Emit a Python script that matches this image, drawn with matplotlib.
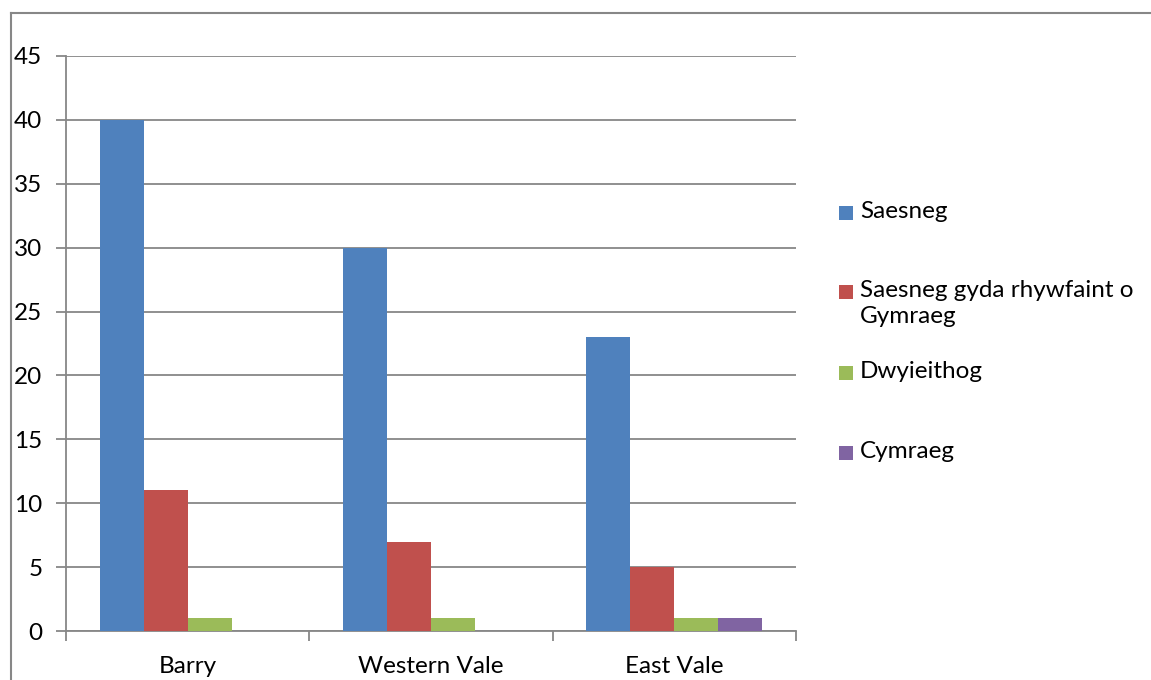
import numpy as np
import matplotlib.pyplot as plt
from matplotlib.patches import Rectangle
from matplotlib.lines import Line2D

plt.rcParams['font.family'] = ['Lato', 'DejaVu Sans']

# data
areas = ['Barry', 'Western Vale', 'East Vale']
series = ['Saesneg', 'Saesneg gyda rhywfaint o\nGymraeg', 'Dwyieithog', 'Cymraeg']
saesneg = [40, 30, 23]
saesneg_rhyw = [11, 7, 5]
dwyieithog = [1, 1, 1]
cymraeg = [0, 0, 1]
colors = ['#4F81BD', '#C0504D', '#9BBB59', '#8064A2']
yticks = [0, 5, 10, 15, 20, 25, 30, 35, 40, 45]

GRID = '#878787'
FS = 17.5

fig = plt.figure(figsize=(11.51, 6.80), dpi=100)
ax = fig.add_axes([66/1151, 49/680, 730/1151, 575/680])

x = np.arange(len(areas))
w = 0.181
values = [saesneg, saesneg_rhyw, dwyieithog, cymraeg]
for i, (vals, c) in enumerate(zip(values, colors)):
    ax.bar(x + (i - 1.5) * w, vals, w, color=c, zorder=3, linewidth=0)

ax.set_xlim(-0.5, 2.5)
ax.set_ylim(0, 45)
ax.set_yticks(yticks)
ax.set_yticklabels([str(t) for t in yticks], fontsize=FS)
ax.yaxis.grid(True, color=GRID, linewidth=1.3, zorder=0)

ax.set_xticks(x)
ax.set_xticklabels(areas, fontsize=FS)
ax.set_xticks(np.arange(len(areas) + 1) - 0.5, minor=True)
ax.tick_params(axis='x', which='major', length=0, pad=18)
ax.tick_params(axis='x', which='minor', length=7, width=1.3, color=GRID, direction='out')
ax.tick_params(axis='y', length=7, width=1.3, color=GRID, pad=10)

for s in ['top', 'right']:
    ax.spines[s].set_visible(False)
for s in ['left', 'bottom']:
    ax.spines[s].set_color(GRID)
    ax.spines[s].set_linewidth(1.3)

# legend drawn by hand so the wrapped entry sits like the original
leg_y = [213, 292, 373, 453]
for name, c, yy in zip(series, colors, leg_y):
    fy = 1 - yy / 680
    fig.add_artist(Rectangle((839/1151, fy - 7/680), 14/1151, 14/680,
                             transform=fig.transFigure, color=c, linewidth=0))
    fig.text(860/1151, fy + 12/680, name, fontsize=FS, va='top', ha='left',
             linespacing=1.3)

# chart frame
fig.add_artist(Line2D([11/1151, 11/1151], [0, 1 - 13/680], transform=fig.transFigure,
                      color=GRID, linewidth=1.5))
fig.add_artist(Line2D([11/1151, 1], [1 - 13/680, 1 - 13/680], transform=fig.transFigure,
                      color=GRID, linewidth=1.5))

fig.savefig('out.png', dpi=100)
